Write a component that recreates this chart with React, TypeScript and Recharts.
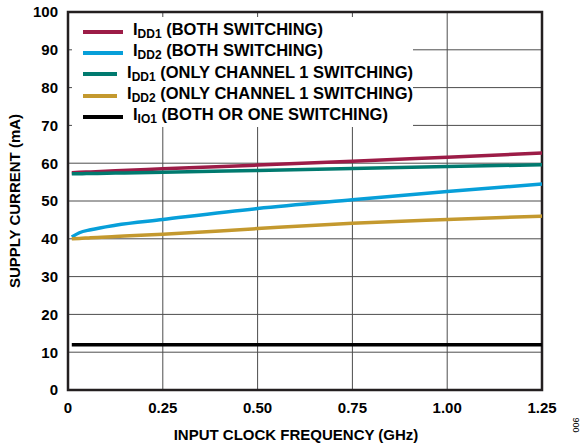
import React from "react";
import {
  LineChart,
  Line,
  XAxis,
  YAxis,
  CartesianGrid,
  Legend,
  Label,
  ReferenceArea,
} from "recharts";

// input clock frequency (GHz)
const freq = [0.01, 0.03, 0.06, 0.125, 0.25, 0.5, 0.75, 1.0, 1.25];
// supply currents (mA)
const idd1Both = [57.5, 57.6, 57.7, 58.0, 58.5, 59.5, 60.5, 61.6, 62.7];
const idd2Both = [40.5, 41.6, 42.4, 43.6, 45.1, 48.0, 50.3, 52.5, 54.5];
const idd1Ch1 = [57.2, 57.2, 57.3, 57.4, 57.6, 58.1, 58.6, 59.1, 59.6];
const idd2Ch1 = [40.0, 40.1, 40.3, 40.6, 41.2, 42.7, 44.1, 45.1, 46.0];
const iio1 = [12, 12, 12, 12, 12, 12, 12, 12, 12];

const xTicks = [0, 0.25, 0.5, 0.75, 1.0, 1.25];
const yTicks = [0, 10, 20, 30, 40, 50, 60, 70, 80, 90, 100];

const series = [
  { key: "idd1Both", sub: "DD1", text: "(BOTH SWITCHING)", color: "#9c1c47" },
  { key: "idd2Both", sub: "DD2", text: "(BOTH SWITCHING)", color: "#079fd9" },
  { key: "idd1Ch1", sub: "DD1", text: "(ONLY CHANNEL 1 SWITCHING)", color: "#007a6f" },
  { key: "idd2Ch1", sub: "DD2", text: "(ONLY CHANNEL 1 SWITCHING)", color: "#c4992e" },
  { key: "iio1", sub: "IO1", text: "(BOTH OR ONE SWITCHING)", color: "#000000" },
];

const data = freq.map((f, i) => ({
  f,
  idd1Both: idd1Both[i],
  idd2Both: idd2Both[i],
  idd1Ch1: idd1Ch1[i],
  idd2Ch1: idd2Ch1[i],
  iio1: iio1[i],
}));

const FONT = "'Liberation Sans', Arial, sans-serif";

function LegendBox() {
  return (
    <div
      style={{
        background: "#fff",
        width: 341,
        height: 110,
        fontFamily: FONT,
        fontWeight: 700,
        fontSize: 16.5,
        color: "#000",
        paddingTop: 4,
        boxSizing: "border-box",
      }}
    >
      {series.map((s) => (
        <div
          key={s.key}
          style={{ display: "flex", alignItems: "center", height: 21.3, whiteSpace: "nowrap" }}
        >
          <span
            style={{
              display: "inline-block",
              width: 40,
              height: 4,
              background: s.color,
              marginLeft: 11,
              marginRight: 10,
            }}
          />
          <span style={{ lineHeight: "18px" }}>
            I<sub style={{ fontSize: 12, verticalAlign: -3 }}>{s.sub}</sub> {s.text}
          </span>
        </div>
      ))}
    </div>
  );
}

export default function App() {
  return (
    <div style={{ position: "absolute", left: 0, top: 0, width: 585, height: 448, background: "#fff" }}>
      <LineChart
        width={585}
        height={448}
        data={data}
        margin={{ top: 12, right: 43, bottom: 0, left: 8 }}
      >
        <CartesianGrid stroke="#4d4d4d" strokeWidth={1} />
        <XAxis
          dataKey="f"
          type="number"
          domain={[0, 1.25]}
          ticks={xTicks}
          tickFormatter={(v: number) => (v === 0 ? "0" : v.toFixed(2))}
          tickLine={false}
          axisLine={false}
          tickMargin={6}
          height={58}
          tick={{ fill: "#000", fontSize: 15, fontWeight: 700, fontFamily: FONT }}
        >
          <Label
            value="INPUT CLOCK FREQUENCY (GHz)"
            position="insideBottom"
            offset={8}
            dx={-9}
            style={{ fill: "#000", fontSize: 15, fontWeight: 700, fontFamily: FONT }}
          />
        </XAxis>
        <YAxis
          type="number"
          domain={[0, 100]}
          ticks={yTicks}
          tickLine={false}
          axisLine={false}
          tickMargin={4}
          width={60}
          tick={{ fill: "#000", fontSize: 15, fontWeight: 700, fontFamily: FONT }}
        >
          <Label
            value="SUPPLY CURRENT (mA)"
            angle={-90}
            position="center"
            dx={-23}
            style={{ fill: "#000", fontSize: 15, fontWeight: 700, fontFamily: FONT, textAnchor: "middle" }}
          />
        </YAxis>
        <Legend
          layout="horizontal"
          verticalAlign="middle"
          align="center"
          wrapperStyle={{ left: 72, top: 17, width: 341, height: 110 }}
          content={() => <LegendBox />}
        />
        {series.map((s) => (
          <Line
            key={s.key}
            dataKey={s.key}
            type="monotone"
            stroke={s.color}
            strokeWidth={3.5}
            dot={false}
            isAnimationActive={false}
          />
        ))}
        <ReferenceArea
          x1={0}
          x2={1.25}
          y1={0}
          y2={100}
          fill="none"
          fillOpacity={0}
          stroke="#231f20"
          strokeWidth={2.5}
        />
      </LineChart>
      <div
        style={{
          position: "absolute",
          left: 566,
          top: 420,
          fontFamily: FONT,
          fontSize: 9,
          color: "#000",
          transform: "rotate(-90deg)",
          transformOrigin: "center",
          width: 20,
          textAlign: "center",
        }}
      >
        006
      </div>
    </div>
  );
}
